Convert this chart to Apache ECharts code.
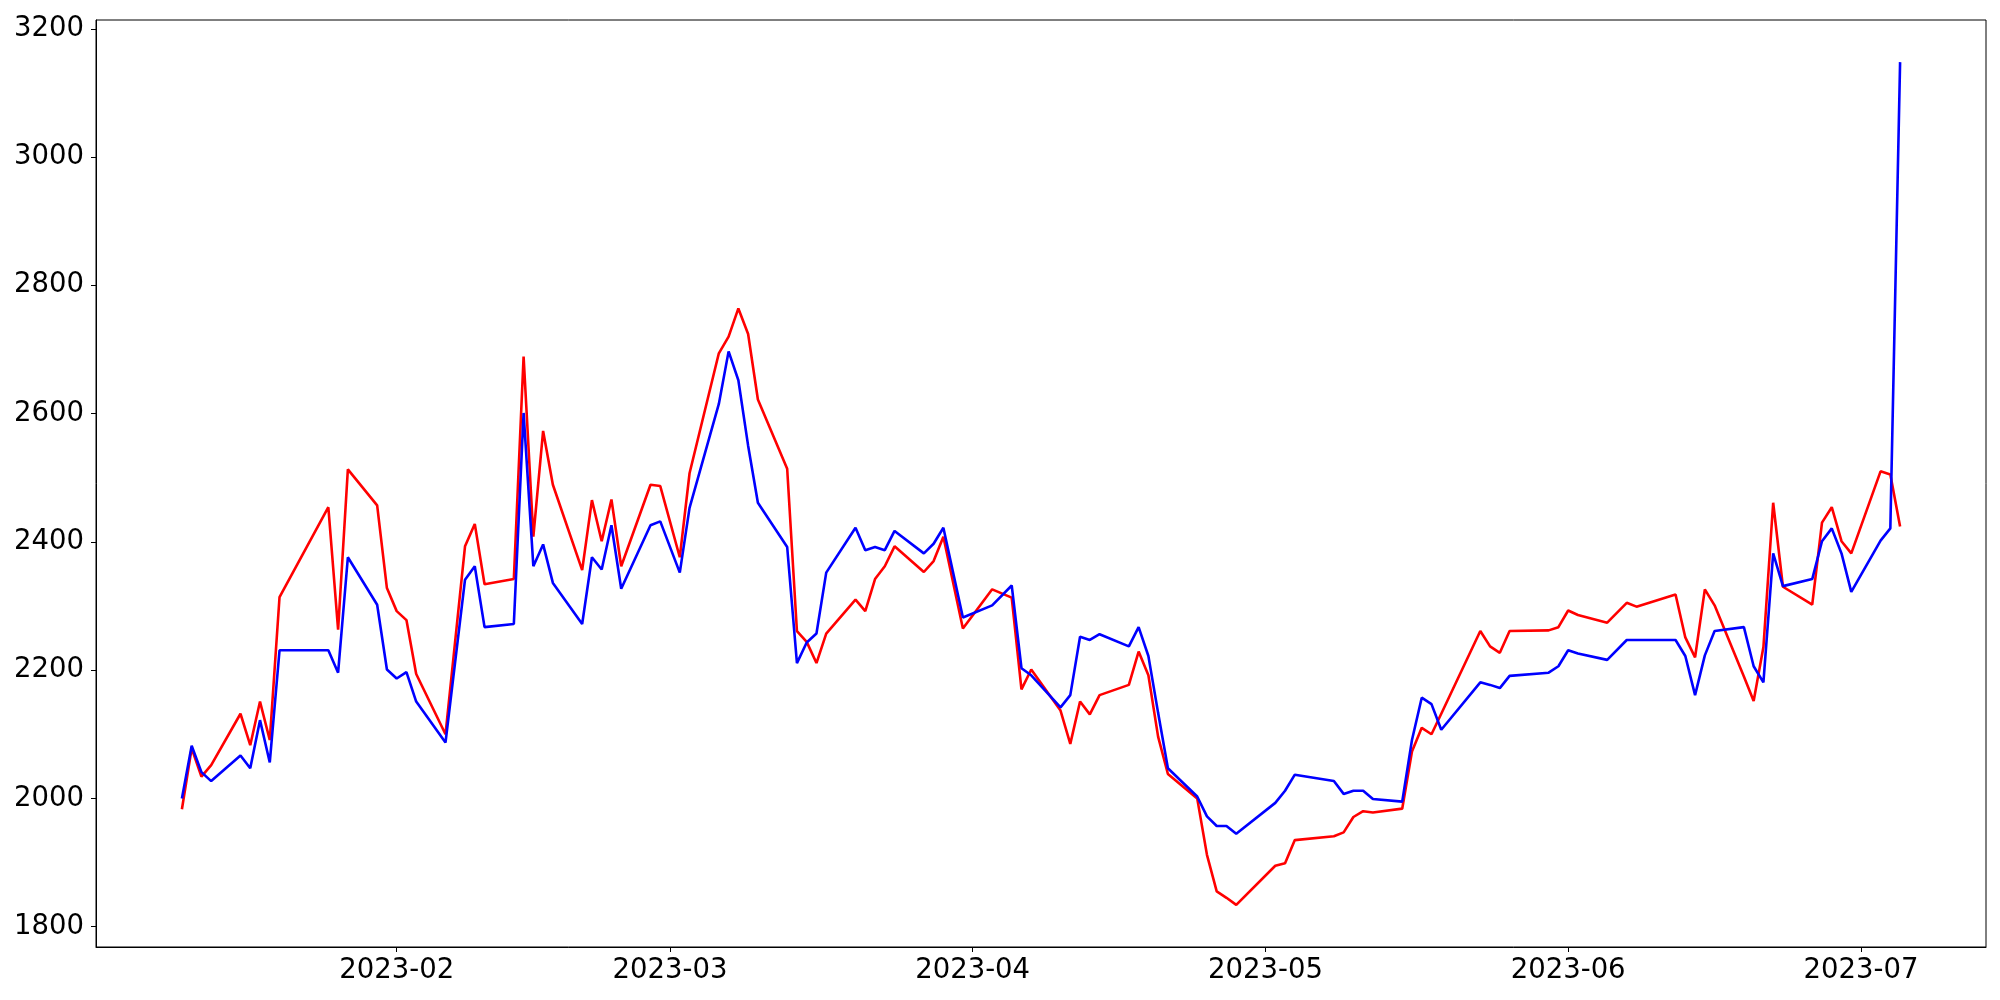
<!DOCTYPE html>
<html>
<head>
<meta charset="utf-8">
<script src="https://cdn.jsdelivr.net/npm/echarts@6/dist/echarts.min.js"></script>
<style>
html,body{margin:0;padding:0;background:#fff;}
#chart{width:2000px;height:1000px;}
</style>
</head>
<body>
<div id="chart"></div>
<script>
const dates = [
'2023-01-10','2023-01-11','2023-01-12','2023-01-13',
'2023-01-16','2023-01-17','2023-01-18','2023-01-19','2023-01-20',
'2023-01-25','2023-01-26','2023-01-27',
'2023-01-30','2023-01-31','2023-02-01','2023-02-02','2023-02-03',
'2023-02-06','2023-02-08','2023-02-09','2023-02-10',
'2023-02-13','2023-02-14','2023-02-15','2023-02-16','2023-02-17',
'2023-02-20','2023-02-21','2023-02-22','2023-02-23','2023-02-24',
'2023-02-27','2023-02-28','2023-03-02','2023-03-03',
'2023-03-06','2023-03-07','2023-03-08','2023-03-09','2023-03-10',
'2023-03-13','2023-03-14','2023-03-15','2023-03-16','2023-03-17',
'2023-03-20','2023-03-21','2023-03-22','2023-03-23','2023-03-24',
'2023-03-27','2023-03-28','2023-03-29','2023-03-31',
'2023-04-03','2023-04-05','2023-04-06','2023-04-07',
'2023-04-10','2023-04-11','2023-04-12','2023-04-13','2023-04-14',
'2023-04-17','2023-04-18','2023-04-19','2023-04-20','2023-04-21',
'2023-04-24','2023-04-25','2023-04-26','2023-04-27','2023-04-28',
'2023-05-02','2023-05-03','2023-05-04',
'2023-05-08','2023-05-09','2023-05-10','2023-05-11','2023-05-12',
'2023-05-15','2023-05-16','2023-05-17','2023-05-18','2023-05-19',
'2023-05-23','2023-05-24','2023-05-25','2023-05-26',
'2023-05-30','2023-05-31','2023-06-01','2023-06-02',
'2023-06-05','2023-06-07','2023-06-08',
'2023-06-12','2023-06-13','2023-06-14','2023-06-15','2023-06-16',
'2023-06-19','2023-06-20','2023-06-21','2023-06-22','2023-06-23',
'2023-06-26','2023-06-27','2023-06-28','2023-06-29','2023-06-30',
'2023-07-03','2023-07-04','2023-07-05'
];

const redValues = [
1983,2078,2034,2052,
2132,2083,2151,2091,2314,
2454,2263,2513,
2457,2328,2292,2278,2194,
2100,2393,2428,2334,
2342,2689,2408,2573,2489,
2356,2465,2401,2466,2362,
2489,2487,2376,2507,
2694,2720,2764,2724,2622,
2514,2261,2244,2211,2257,
2310,2292,2342,2362,2393,
2353,2370,2408,2265,
2326,2313,2170,2201,
2137,2085,2151,2131,2161,
2177,2229,2192,2096,2038,
2000,1912,1855,1845,1834,
1895,1899,1935,
1941,1947,1971,1980,1978,
1984,2073,2110,2100,2132,
2261,2237,2227,2261,
2262,2267,2293,2286,
2274,2305,2299,
2318,2251,2220,2326,2301,
2190,2152,2236,2461,2330,
2302,2430,2454,2401,2382,
2510,2505,2424
];

const blueValues = [
2000,2082,2041,2027,
2067,2047,2122,2056,2231,
2231,2196,2376,
2302,2201,2187,2197,2151,
2087,2341,2362,2267,
2272,2601,2362,2396,2336,
2272,2376,2357,2426,2327,
2426,2432,2352,2453,
2615,2697,2652,2550,2461,
2392,2211,2243,2257,2352,
2422,2387,2392,2387,2417,
2382,2397,2422,2282,
2301,2332,2203,2192,
2142,2161,2252,2247,2256,
2237,2267,2222,2133,2047,
2003,1972,1957,1957,1945,
1993,2012,2037,
2027,2007,2012,2012,1999,
1995,2091,2157,2147,2107,
2181,2177,2172,2191,
2196,2206,2231,2226,
2216,2247,2247,
2247,2222,2161,2223,2261,
2267,2206,2181,2382,2331,
2342,2401,2421,2382,2322,
2402,2421,3148
];

const yTicks = [1800, 2000, 2200, 2400, 2600, 2800, 3000, 3200];
const xTickLabels = ['2023-02', '2023-03', '2023-04', '2023-05', '2023-06', '2023-07'];

function toTs(s) {
  const p = s.split('-').map(Number);
  return new Date(p[0], p[1] - 1, p[2] || 1).getTime();
}

const xTickValues = xTickLabels.map(toTs);
const redData = dates.map((d, i) => [toTs(d), redValues[i]]);
const blueData = dates.map((d, i) => [toTs(d), blueValues[i]]);

// matplotlib-like 5% margins
const t0 = toTs(dates[0]), t1 = toTs(dates[dates.length - 1]);
const xPad = (t1 - t0) * 0.05;
const allVals = redValues.concat(blueValues);
const vMin = Math.min.apply(null, allVals), vMax = Math.max.apply(null, allVals);
const yPad = (vMax - vMin) * 0.05;

const FONT = 'DejaVu Sans';
const chart = echarts.init(document.getElementById('chart'), null, {renderer: 'canvas'});
chart.setOption({
  animation: false,
  backgroundColor: '#ffffff',
  grid: {
    left: 96, right: 14, top: 20, bottom: 53,
    containLabel: false,
    show: true, borderColor: '#000', borderWidth: 1, backgroundColor: 'transparent'
  },
  xAxis: {
    type: 'value',
    min: t0 - xPad,
    max: t1 + xPad,
    scale: true,
    axisLine: {show: true, onZero: false, lineStyle: {color: '#000', width: 1}},
    axisTick: {show: true, inside: false, length: 5, lineStyle: {color: '#000', width: 1}, customValues: xTickValues},
    axisLabel: {
      show: true, color: '#000', fontFamily: FONT, fontSize: 27.5, margin: 10,
      customValues: xTickValues,
      formatter: function (v) {
        const d = new Date(v);
        const m = d.getMonth() + 1;
        return d.getFullYear() + '-' + (m < 10 ? '0' + m : m);
      },
      hideOverlap: false
    },
    splitLine: {show: false}
  },
  yAxis: {
    type: 'value',
    min: vMin - yPad,
    max: vMax + yPad,
    scale: true,
    axisLine: {show: true, onZero: false, lineStyle: {color: '#000', width: 1}},
    axisTick: {show: true, inside: false, length: 5, lineStyle: {color: '#000', width: 1}, customValues: yTicks},
    axisLabel: {
      show: true, color: '#000', fontFamily: FONT, fontSize: 27.5, margin: 12,
      customValues: yTicks,
      formatter: function (v) { return String(Math.round(v)); }
    },
    splitLine: {show: false}
  },
  series: [
    {
      name: 'red', type: 'line', data: redData, showSymbol: false, symbol: 'none',
      lineStyle: {color: '#ff0000', width: 2.6}, itemStyle: {color: '#ff0000'},
      emphasis: {disabled: true}
    },
    {
      name: 'blue', type: 'line', data: blueData, showSymbol: false, symbol: 'none',
      lineStyle: {color: '#0000ff', width: 2.6}, itemStyle: {color: '#0000ff'},
      emphasis: {disabled: true}
    }
  ]
});
</script>
</body>
</html>
